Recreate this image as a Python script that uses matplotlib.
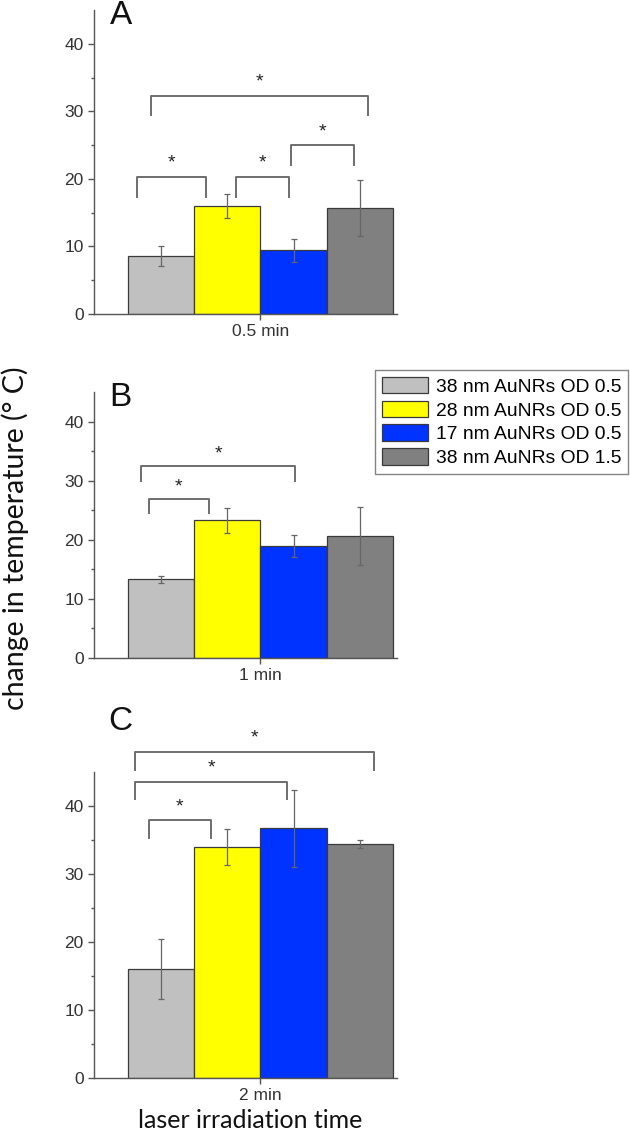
import numpy as np
import matplotlib
matplotlib.use("Agg")
import matplotlib.pyplot as plt
from matplotlib.patches import Patch

# data
series = ["38 nm AuNRs OD 0.5", "28 nm AuNRs OD 0.5",
          "17 nm AuNRs OD 0.5", "38 nm AuNRs OD 1.5"]
colors = ["#c0c0c0", "#ffff00", "#0033ff", "#808080"]
times = ["0.5 min", "1 min", "2 min"]
panel_letters = ["A", "B", "C"]

means_a = [8.6, 16.0, 9.4, 15.7]
err_a = [1.5, 1.8, 1.65, 4.1]
means_b = [13.3, 23.3, 19.0, 20.6]
err_b = [0.55, 2.15, 1.85, 4.95]
means_c = [16.0, 34.0, 36.7, 34.4]
err_c = [4.4, 2.65, 5.6, 0.6]

# significance brackets: (x start, x end, top, leg end)
brackets_a = [(-0.36, 0.68, 20.3, 17.3), (1.13, 1.93, 20.3, 17.3),
              (1.96, 2.91, 25.0, 22.1), (-0.15, 3.12, 32.3, 29.5)]
brackets_b = [(-0.18, 0.72, 26.9, 24.5), (-0.30, 2.02, 32.5, 30.0)]
brackets_c = [(-0.18, 0.75, 37.9, 35.3), (-0.39, 1.90, 43.6, 41.1),
              (-0.39, 3.21, 48.0, 45.3)]

plt.rcParams["font.family"] = ["Liberation Sans", "DejaVu Sans"]

fig = plt.figure(figsize=(6.3, 11.3), dpi=100)
H = 1130.0
W = 630.0

# axes boxes in pixels: (left, right, top, bottom)
boxes = [(94, 397, 10, 314), (94, 397, 392, 658), (94, 397, 772, 1078)]
letter_pos = [(110, 15), (109, 398), (108, 721)]
all_means = [means_a, means_b, means_c]
all_err = [err_a, err_b, err_c]
all_brackets = [brackets_a, brackets_b, brackets_c]

x = np.arange(4)
edge = "#3a3a3a"
for i in range(3):
    l, r, t, b = boxes[i]
    ax = fig.add_axes([l / W, 1 - b / H, (r - l) / W, (b - t) / H])
    ax.bar(x, all_means[i], width=1.0, color=colors, edgecolor=edge,
           linewidth=0.9, zorder=2)
    ax.errorbar(x, all_means[i], yerr=all_err[i], fmt="none",
                ecolor="#666666", elinewidth=0.9, capsize=2.5,
                capthick=0.9, zorder=3)
    for x0, x1, ytop, yleg in all_brackets[i]:
        ax.plot([x0, x0, x1, x1], [yleg, ytop, ytop, yleg],
                color="#6e6e6e", lw=1.4, clip_on=False, zorder=4)
        ax.text((x0 + x1) / 2, ytop + 2.0, "*", ha="center", va="center",
                fontsize=14, color="#222222", clip_on=False)
    ax.set_xlim(-1.01, 3.56)
    ax.set_ylim(0, 45)
    ax.set_yticks([0, 10, 20, 30, 40])
    ax.set_yticks(np.arange(5, 45, 10), minor=True)
    ax.set_xticks([1.5])
    ax.set_xticklabels([times[i]])
    ax.spines["top"].set_visible(False)
    ax.spines["right"].set_visible(False)
    for s in ("left", "bottom"):
        ax.spines[s].set_color("#555555")
        ax.spines[s].set_linewidth(1.0)
    ax.tick_params(axis="both", which="major", direction="out", length=4,
                   width=1.0, color="#555555", labelsize=12.5,
                   labelcolor="#333333")
    ax.tick_params(axis="y", which="minor", direction="out", length=2.5,
                   width=1.0, color="#555555")
    ax.tick_params(axis="x", pad=3)
    lx, ly = letter_pos[i]
    fig.text(lx / W, 1 - ly / H, panel_letters[i], fontsize=24,
             ha="left", va="center", color="#111111")

handles = [Patch(facecolor=c, edgecolor=edge, linewidth=0.9) for c in colors]
fig.legend(handles, series, loc="upper right",
           bbox_to_anchor=(628 / W, 1 - 370 / H), fontsize=13.9,
           frameon=True, fancybox=False, edgecolor="#666666",
           handlelength=2.4, handleheight=0.95, handletextpad=0.4,
           labelspacing=0.25, borderpad=0.35, borderaxespad=0)

fig.text(15 / W, 1 - 538 / H, "change in temperature (° C)", rotation=90,
         ha="center", va="center", fontsize=20.5,
         family=["Lato", "DejaVu Sans"], color="#111111")
fig.text(250 / W, 1 - 1120 / H, "laser irradiation time",
         ha="center", va="center", fontsize=18,
         family=["Lato", "DejaVu Sans"], color="#111111")

fig.savefig("out.png", dpi=100)
